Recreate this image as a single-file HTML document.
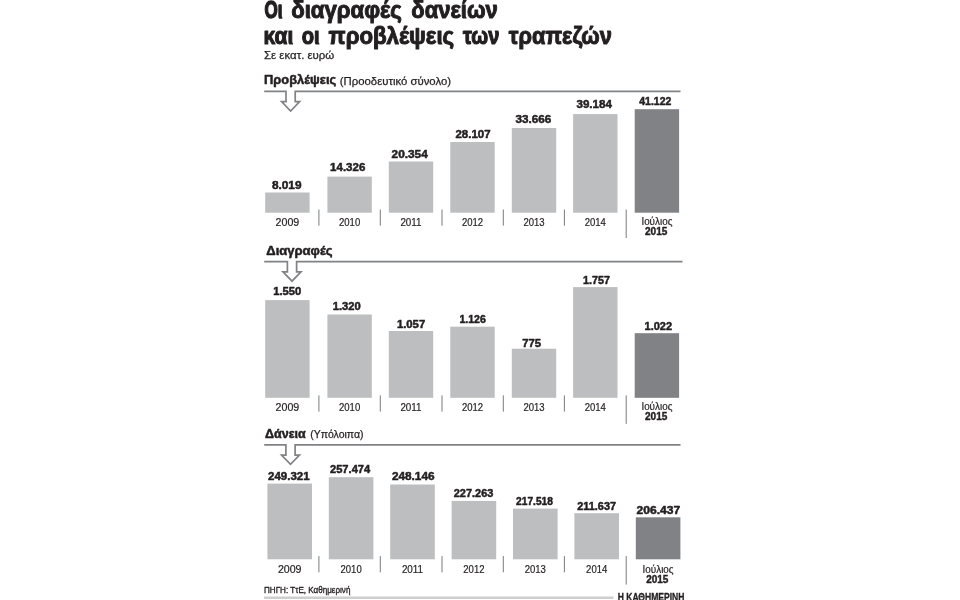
<!DOCTYPE html>
<html lang="el">
<head>
<meta charset="utf-8">
<title>Οι διαγραφές δανείων και οι προβλέψεις των τραπεζών</title>
<style>
html,body{margin:0;padding:0;background:#fff;}
body{width:960px;height:600px;overflow:hidden;}
svg{display:block;font-family:"Liberation Sans",sans-serif;}
</style>
</head>
<body>
<svg width="960" height="600" viewBox="0 0 960 600">
<text y="17.9" font-size="23" font-weight="bold" fill="#231f20" stroke="#231f20" stroke-linejoin="round"><tspan x="264.4" textLength="18.0" lengthAdjust="spacingAndGlyphs" stroke-width="1.5">Οι</tspan> <tspan x="291.2" textLength="110.5" lengthAdjust="spacingAndGlyphs" stroke-width="1.0">διαγραφές</tspan> <tspan x="411.3" textLength="86.5" lengthAdjust="spacingAndGlyphs" stroke-width="1.0">δανείων</tspan></text>
<text y="43.6" font-size="23" font-weight="bold" fill="#231f20" stroke="#231f20" stroke-linejoin="round"><tspan x="263.5" textLength="29.8" lengthAdjust="spacingAndGlyphs" stroke-width="1.1">και</tspan> <tspan x="301.7" textLength="18.0" lengthAdjust="spacingAndGlyphs" stroke-width="1.2">οι</tspan> <tspan x="328.6" textLength="125.6" lengthAdjust="spacingAndGlyphs" stroke-width="1.0">προβλέψεις</tspan> <tspan x="463.0" textLength="36.4" lengthAdjust="spacingAndGlyphs" stroke-width="1.2">των</tspan> <tspan x="508.8" textLength="103.0" lengthAdjust="spacingAndGlyphs" stroke-width="1.0">τραπεζών</tspan></text>
<text x="264.0" y="59.4" font-size="11" font-weight="normal" text-anchor="start" textLength="70.3" lengthAdjust="spacingAndGlyphs" fill="#231f20" stroke="#231f20" stroke-width="0.25" stroke-linejoin="round">Σε εκατ. ευρώ</text>
<text x="264.0" y="84.2" font-size="12.5" font-weight="bold" text-anchor="start" textLength="72.2" lengthAdjust="spacingAndGlyphs" fill="#231f20" stroke="#231f20" stroke-width="0.5" stroke-linejoin="round">Προβλέψεις</text>
<text x="339.8" y="84.5" font-size="11" font-weight="normal" text-anchor="start" textLength="111.2" lengthAdjust="spacingAndGlyphs" fill="#231f20" stroke="#231f20" stroke-width="0.25" stroke-linejoin="round">(Προοδευτικό σύνολο)</text>
<path d="M264.2 91.4 L286.0 91.4 L286.0 101.7 L281.6 101.7 L290.6 111.0 L299.6 101.7 L295.2 101.7 L295.2 91.4 L680.5 91.4" fill="none" stroke="#808285" stroke-width="1.7" stroke-linejoin="miter"/>
<rect x="265.2" y="192.5" width="44.4" height="20.2" fill="#bcbec0"/>
<text x="271.9" y="189.2" font-size="11" font-weight="bold" text-anchor="start" textLength="29.6" lengthAdjust="spacingAndGlyphs" fill="#231f20" stroke="#231f20" stroke-width="0.5" stroke-linejoin="round">8.019</text>
<rect x="327.4" y="176.6" width="44.4" height="36.1" fill="#bcbec0"/>
<text x="330.1" y="171.3" font-size="11" font-weight="bold" text-anchor="start" textLength="35.2" lengthAdjust="spacingAndGlyphs" fill="#231f20" stroke="#231f20" stroke-width="0.5" stroke-linejoin="round">14.326</text>
<rect x="388.8" y="161.5" width="44.4" height="51.2" fill="#bcbec0"/>
<text x="391.6" y="157.7" font-size="11" font-weight="bold" text-anchor="start" textLength="36.2" lengthAdjust="spacingAndGlyphs" fill="#231f20" stroke="#231f20" stroke-width="0.5" stroke-linejoin="round">20.354</text>
<rect x="450.3" y="142.0" width="44.4" height="70.7" fill="#bcbec0"/>
<text x="455.5" y="137.6" font-size="11" font-weight="bold" text-anchor="start" textLength="35.0" lengthAdjust="spacingAndGlyphs" fill="#231f20" stroke="#231f20" stroke-width="0.5" stroke-linejoin="round">28.107</text>
<rect x="511.8" y="128.0" width="44.4" height="84.7" fill="#bcbec0"/>
<text x="515.5" y="122.6" font-size="11" font-weight="bold" text-anchor="start" textLength="35.8" lengthAdjust="spacingAndGlyphs" fill="#231f20" stroke="#231f20" stroke-width="0.5" stroke-linejoin="round">33.666</text>
<rect x="573.1" y="114.1" width="44.4" height="98.6" fill="#bcbec0"/>
<text x="576.5" y="108.3" font-size="11" font-weight="bold" text-anchor="start" textLength="35.4" lengthAdjust="spacingAndGlyphs" fill="#231f20" stroke="#231f20" stroke-width="0.5" stroke-linejoin="round">39.184</text>
<rect x="634.7" y="109.2" width="44.4" height="103.5" fill="#808285"/>
<text x="639.3" y="105.0" font-size="11" font-weight="bold" text-anchor="start" textLength="32.0" lengthAdjust="spacingAndGlyphs" fill="#231f20" stroke="#231f20" stroke-width="0.5" stroke-linejoin="round">41.122</text>
<line x1="318.9" y1="209.5" x2="318.9" y2="225.7" stroke="#58595b" stroke-width="0.8"/>
<line x1="380.3" y1="209.5" x2="380.3" y2="225.7" stroke="#58595b" stroke-width="0.8"/>
<line x1="442.0" y1="209.5" x2="442.0" y2="225.7" stroke="#58595b" stroke-width="0.8"/>
<line x1="503.3" y1="209.5" x2="503.3" y2="225.7" stroke="#58595b" stroke-width="0.8"/>
<line x1="564.4" y1="209.5" x2="564.4" y2="225.7" stroke="#58595b" stroke-width="0.8"/>
<line x1="626.2" y1="209.5" x2="626.2" y2="238.0" stroke="#58595b" stroke-width="0.8"/>
<text x="287.4" y="225.7" font-size="10.5" font-weight="normal" text-anchor="middle" textLength="23.6" lengthAdjust="spacingAndGlyphs" fill="#231f20" stroke="#231f20" stroke-width="0.2" stroke-linejoin="round">2009</text>
<text x="349.6" y="225.7" font-size="10.5" font-weight="normal" text-anchor="middle" textLength="21.2" lengthAdjust="spacingAndGlyphs" fill="#231f20" stroke="#231f20" stroke-width="0.2" stroke-linejoin="round">2010</text>
<text x="411.0" y="225.7" font-size="10.5" font-weight="normal" text-anchor="middle" textLength="21.2" lengthAdjust="spacingAndGlyphs" fill="#231f20" stroke="#231f20" stroke-width="0.2" stroke-linejoin="round">2011</text>
<text x="472.5" y="225.7" font-size="10.5" font-weight="normal" text-anchor="middle" textLength="21.2" lengthAdjust="spacingAndGlyphs" fill="#231f20" stroke="#231f20" stroke-width="0.2" stroke-linejoin="round">2012</text>
<text x="534.0" y="225.7" font-size="10.5" font-weight="normal" text-anchor="middle" textLength="21.2" lengthAdjust="spacingAndGlyphs" fill="#231f20" stroke="#231f20" stroke-width="0.2" stroke-linejoin="round">2013</text>
<text x="595.3" y="225.7" font-size="10.5" font-weight="normal" text-anchor="middle" textLength="21.2" lengthAdjust="spacingAndGlyphs" fill="#231f20" stroke="#231f20" stroke-width="0.2" stroke-linejoin="round">2014</text>
<text x="656.9" y="225.2" font-size="10.5" font-weight="normal" text-anchor="middle" textLength="31.0" lengthAdjust="spacingAndGlyphs" fill="#231f20" stroke="#231f20" stroke-width="0.2" stroke-linejoin="round">Ιούλιος</text>
<text x="656.2" y="235.3" font-size="10" font-weight="bold" text-anchor="middle" textLength="22.3" lengthAdjust="spacingAndGlyphs" fill="#231f20" stroke="#231f20" stroke-width="0.4" stroke-linejoin="round">2015</text>
<text x="266.3" y="254.8" font-size="12.5" font-weight="bold" text-anchor="start" textLength="66.3" lengthAdjust="spacingAndGlyphs" fill="#231f20" stroke="#231f20" stroke-width="0.5" stroke-linejoin="round">Διαγραφές</text>
<path d="M264.2 261.6 L287.4 261.6 L287.4 271.9 L283.0 271.9 L292.0 281.2 L301.0 271.9 L296.6 271.9 L296.6 261.6 L682.5 261.6" fill="none" stroke="#808285" stroke-width="1.7" stroke-linejoin="miter"/>
<rect x="265.2" y="300.1" width="44.4" height="97.7" fill="#bcbec0"/>
<text x="273.2" y="295.3" font-size="11" font-weight="bold" text-anchor="start" textLength="28.0" lengthAdjust="spacingAndGlyphs" fill="#231f20" stroke="#231f20" stroke-width="0.5" stroke-linejoin="round">1.550</text>
<rect x="327.4" y="314.5" width="44.4" height="83.3" fill="#bcbec0"/>
<text x="332.7" y="310.0" font-size="11" font-weight="bold" text-anchor="start" textLength="28.0" lengthAdjust="spacingAndGlyphs" fill="#231f20" stroke="#231f20" stroke-width="0.5" stroke-linejoin="round">1.320</text>
<rect x="388.8" y="331.0" width="44.4" height="66.8" fill="#bcbec0"/>
<text x="396.9" y="327.8" font-size="11" font-weight="bold" text-anchor="start" textLength="28.3" lengthAdjust="spacingAndGlyphs" fill="#231f20" stroke="#231f20" stroke-width="0.5" stroke-linejoin="round">1.057</text>
<rect x="450.3" y="326.7" width="44.4" height="71.1" fill="#bcbec0"/>
<text x="459.4" y="323.3" font-size="11" font-weight="bold" text-anchor="start" textLength="26.4" lengthAdjust="spacingAndGlyphs" fill="#231f20" stroke="#231f20" stroke-width="0.5" stroke-linejoin="round">1.126</text>
<rect x="511.8" y="348.7" width="44.4" height="49.1" fill="#bcbec0"/>
<text x="522.2" y="346.6" font-size="11" font-weight="bold" text-anchor="start" textLength="18.8" lengthAdjust="spacingAndGlyphs" fill="#231f20" stroke="#231f20" stroke-width="0.5" stroke-linejoin="round">775</text>
<rect x="573.1" y="287.1" width="44.4" height="110.7" fill="#bcbec0"/>
<text x="583.1" y="283.9" font-size="11" font-weight="bold" text-anchor="start" textLength="26.9" lengthAdjust="spacingAndGlyphs" fill="#231f20" stroke="#231f20" stroke-width="0.5" stroke-linejoin="round">1.757</text>
<rect x="634.7" y="333.2" width="44.4" height="64.6" fill="#808285"/>
<text x="644.6" y="330.4" font-size="11" font-weight="bold" text-anchor="start" textLength="27.5" lengthAdjust="spacingAndGlyphs" fill="#231f20" stroke="#231f20" stroke-width="0.5" stroke-linejoin="round">1.022</text>
<line x1="318.9" y1="395.4" x2="318.9" y2="411.6" stroke="#58595b" stroke-width="0.8"/>
<line x1="380.3" y1="395.4" x2="380.3" y2="411.6" stroke="#58595b" stroke-width="0.8"/>
<line x1="442.0" y1="395.4" x2="442.0" y2="411.6" stroke="#58595b" stroke-width="0.8"/>
<line x1="503.3" y1="395.4" x2="503.3" y2="411.6" stroke="#58595b" stroke-width="0.8"/>
<line x1="564.4" y1="395.4" x2="564.4" y2="411.6" stroke="#58595b" stroke-width="0.8"/>
<line x1="626.2" y1="395.4" x2="626.2" y2="423.9" stroke="#58595b" stroke-width="0.8"/>
<text x="287.4" y="410.5" font-size="10.5" font-weight="normal" text-anchor="middle" textLength="23.6" lengthAdjust="spacingAndGlyphs" fill="#231f20" stroke="#231f20" stroke-width="0.2" stroke-linejoin="round">2009</text>
<text x="349.6" y="410.5" font-size="10.5" font-weight="normal" text-anchor="middle" textLength="21.2" lengthAdjust="spacingAndGlyphs" fill="#231f20" stroke="#231f20" stroke-width="0.2" stroke-linejoin="round">2010</text>
<text x="411.0" y="410.5" font-size="10.5" font-weight="normal" text-anchor="middle" textLength="21.2" lengthAdjust="spacingAndGlyphs" fill="#231f20" stroke="#231f20" stroke-width="0.2" stroke-linejoin="round">2011</text>
<text x="472.5" y="410.5" font-size="10.5" font-weight="normal" text-anchor="middle" textLength="21.2" lengthAdjust="spacingAndGlyphs" fill="#231f20" stroke="#231f20" stroke-width="0.2" stroke-linejoin="round">2012</text>
<text x="534.0" y="410.5" font-size="10.5" font-weight="normal" text-anchor="middle" textLength="21.2" lengthAdjust="spacingAndGlyphs" fill="#231f20" stroke="#231f20" stroke-width="0.2" stroke-linejoin="round">2013</text>
<text x="595.3" y="410.5" font-size="10.5" font-weight="normal" text-anchor="middle" textLength="21.2" lengthAdjust="spacingAndGlyphs" fill="#231f20" stroke="#231f20" stroke-width="0.2" stroke-linejoin="round">2014</text>
<text x="656.9" y="410.0" font-size="10.5" font-weight="normal" text-anchor="middle" textLength="31.0" lengthAdjust="spacingAndGlyphs" fill="#231f20" stroke="#231f20" stroke-width="0.2" stroke-linejoin="round">Ιούλιος</text>
<text x="656.2" y="420.1" font-size="10" font-weight="bold" text-anchor="middle" textLength="22.3" lengthAdjust="spacingAndGlyphs" fill="#231f20" stroke="#231f20" stroke-width="0.4" stroke-linejoin="round">2015</text>
<text x="265.0" y="437.9" font-size="12.5" font-weight="bold" text-anchor="start" textLength="40.8" lengthAdjust="spacingAndGlyphs" fill="#231f20" stroke="#231f20" stroke-width="0.5" stroke-linejoin="round">Δάνεια</text>
<text x="310.2" y="438.2" font-size="11" font-weight="normal" text-anchor="start" textLength="53.3" lengthAdjust="spacingAndGlyphs" fill="#231f20" stroke="#231f20" stroke-width="0.25" stroke-linejoin="round">(Υπόλοιπα)</text>
<path d="M264.2 444.8 L285.9 444.8 L285.9 455.1 L281.5 455.1 L290.5 464.4 L299.5 455.1 L295.1 455.1 L295.1 444.8 L680.5 444.8" fill="none" stroke="#808285" stroke-width="1.7" stroke-linejoin="miter"/>
<rect x="267.4" y="483.6" width="44.6" height="75.7" fill="#bcbec0"/>
<text x="268.1" y="479.7" font-size="11" font-weight="bold" text-anchor="start" textLength="41.5" lengthAdjust="spacingAndGlyphs" fill="#231f20" stroke="#231f20" stroke-width="0.5" stroke-linejoin="round">249.321</text>
<rect x="328.8" y="477.2" width="44.6" height="82.1" fill="#bcbec0"/>
<text x="330.0" y="473.1" font-size="11" font-weight="bold" text-anchor="start" textLength="40.2" lengthAdjust="spacingAndGlyphs" fill="#231f20" stroke="#231f20" stroke-width="0.5" stroke-linejoin="round">257.474</text>
<rect x="390.2" y="484.5" width="44.6" height="74.8" fill="#bcbec0"/>
<text x="391.9" y="480.3" font-size="11" font-weight="bold" text-anchor="start" textLength="42.6" lengthAdjust="spacingAndGlyphs" fill="#231f20" stroke="#231f20" stroke-width="0.5" stroke-linejoin="round">248.146</text>
<rect x="451.6" y="500.9" width="44.6" height="58.4" fill="#bcbec0"/>
<text x="453.8" y="496.9" font-size="11" font-weight="bold" text-anchor="start" textLength="39.5" lengthAdjust="spacingAndGlyphs" fill="#231f20" stroke="#231f20" stroke-width="0.5" stroke-linejoin="round">227.263</text>
<rect x="513.0" y="508.6" width="44.6" height="50.7" fill="#bcbec0"/>
<text x="516.1" y="505.0" font-size="11" font-weight="bold" text-anchor="start" textLength="36.8" lengthAdjust="spacingAndGlyphs" fill="#231f20" stroke="#231f20" stroke-width="0.5" stroke-linejoin="round">217.518</text>
<rect x="574.4" y="513.2" width="44.6" height="46.1" fill="#bcbec0"/>
<text x="577.3" y="510.4" font-size="11" font-weight="bold" text-anchor="start" textLength="38.7" lengthAdjust="spacingAndGlyphs" fill="#231f20" stroke="#231f20" stroke-width="0.5" stroke-linejoin="round">211.637</text>
<rect x="635.8" y="517.3" width="44.6" height="42.0" fill="#808285"/>
<text x="636.6" y="513.7" font-size="11" font-weight="bold" text-anchor="start" textLength="43.6" lengthAdjust="spacingAndGlyphs" fill="#231f20" stroke="#231f20" stroke-width="0.5" stroke-linejoin="round">206.437</text>
<line x1="318.9" y1="556.1" x2="318.9" y2="572.3" stroke="#58595b" stroke-width="0.8"/>
<line x1="380.3" y1="556.1" x2="380.3" y2="572.3" stroke="#58595b" stroke-width="0.8"/>
<line x1="442.0" y1="556.1" x2="442.0" y2="572.3" stroke="#58595b" stroke-width="0.8"/>
<line x1="503.3" y1="556.1" x2="503.3" y2="572.3" stroke="#58595b" stroke-width="0.8"/>
<line x1="564.4" y1="556.1" x2="564.4" y2="572.3" stroke="#58595b" stroke-width="0.8"/>
<line x1="626.2" y1="556.1" x2="626.2" y2="584.6" stroke="#58595b" stroke-width="0.8"/>
<text x="289.7" y="573.0" font-size="10.5" font-weight="normal" text-anchor="middle" textLength="23.6" lengthAdjust="spacingAndGlyphs" fill="#231f20" stroke="#231f20" stroke-width="0.2" stroke-linejoin="round">2009</text>
<text x="351.1" y="573.0" font-size="10.5" font-weight="normal" text-anchor="middle" textLength="21.2" lengthAdjust="spacingAndGlyphs" fill="#231f20" stroke="#231f20" stroke-width="0.2" stroke-linejoin="round">2010</text>
<text x="412.5" y="573.0" font-size="10.5" font-weight="normal" text-anchor="middle" textLength="21.2" lengthAdjust="spacingAndGlyphs" fill="#231f20" stroke="#231f20" stroke-width="0.2" stroke-linejoin="round">2011</text>
<text x="473.9" y="573.0" font-size="10.5" font-weight="normal" text-anchor="middle" textLength="21.2" lengthAdjust="spacingAndGlyphs" fill="#231f20" stroke="#231f20" stroke-width="0.2" stroke-linejoin="round">2012</text>
<text x="535.3" y="573.0" font-size="10.5" font-weight="normal" text-anchor="middle" textLength="21.2" lengthAdjust="spacingAndGlyphs" fill="#231f20" stroke="#231f20" stroke-width="0.2" stroke-linejoin="round">2013</text>
<text x="596.7" y="573.0" font-size="10.5" font-weight="normal" text-anchor="middle" textLength="21.2" lengthAdjust="spacingAndGlyphs" fill="#231f20" stroke="#231f20" stroke-width="0.2" stroke-linejoin="round">2014</text>
<text x="658.1" y="572.5" font-size="10.5" font-weight="normal" text-anchor="middle" textLength="31.0" lengthAdjust="spacingAndGlyphs" fill="#231f20" stroke="#231f20" stroke-width="0.2" stroke-linejoin="round">Ιούλιος</text>
<text x="657.3" y="582.6" font-size="10" font-weight="bold" text-anchor="middle" textLength="22.3" lengthAdjust="spacingAndGlyphs" fill="#231f20" stroke="#231f20" stroke-width="0.4" stroke-linejoin="round">2015</text>
<text x="264.0" y="593.3" font-size="9.5" font-weight="normal" text-anchor="start" textLength="86.4" lengthAdjust="spacingAndGlyphs" fill="#231f20" stroke="#231f20" stroke-width="0.35" stroke-linejoin="round">ΠΗΓΗ: ΤτΕ, Καθημερινή</text>
<line x1="264.0" y1="597.7" x2="613.5" y2="597.7" stroke="#cdced0" stroke-width="2.4"/>
<text x="617.7" y="601.2" font-size="10" font-weight="bold" text-anchor="start" textLength="66.7" lengthAdjust="spacingAndGlyphs" fill="#231f20" stroke="#231f20" stroke-width="0.3" stroke-linejoin="round">Η ΚΑΘΗΜΕΡΙΝΗ</text>
</svg>
</body>
</html>
